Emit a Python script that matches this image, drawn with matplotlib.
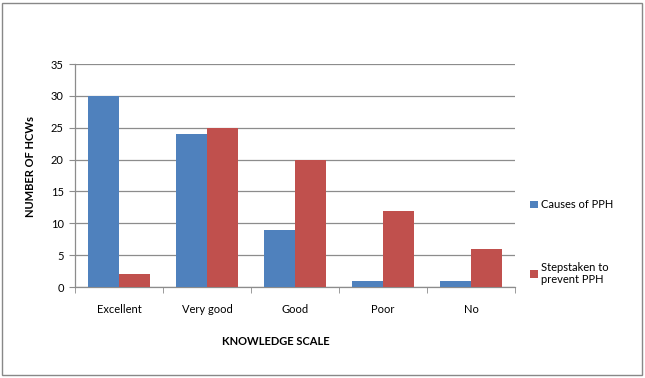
import matplotlib
matplotlib.use('Agg')
import matplotlib.pyplot as plt
from matplotlib.patches import Rectangle
import numpy as np

categories = ['Excellent', 'Very good', 'Good', 'Poor', 'No']
causes = [30, 24, 9, 1, 1]
steps_taken = [2, 25, 20, 12, 6]
series_labels = ['Causes of PPH', 'Stepstaken to\nprevent PPH']

BLUE = '#4F81BD'
RED = '#C0504D'
GRID = '#8C8C8C'

plt.rcParams['font.family'] = ['Lato', 'DejaVu Sans']

fig = plt.figure(figsize=(6.45, 3.78), dpi=100)
ax = fig.add_axes([75 / 645, 1 - 287 / 378, 440 / 645, 223 / 378])

x = np.arange(len(categories))
w = 0.35
ax.bar(x - w / 2, causes, width=w, color=BLUE, label=series_labels[0], zorder=3)
ax.bar(x + w / 2, steps_taken, width=w, color=RED, label=series_labels[1], zorder=3)

ax.set_xlim(-0.5, len(categories) - 0.5)
ax.set_ylim(0, 35)
ax.set_yticks(range(0, 36, 5))
ax.yaxis.grid(True, color=GRID, lw=0.9, zorder=0)
ax.set_axisbelow(True)

ax.set_xticks(x)
ax.set_xticklabels(categories, fontsize=8)
ax.set_xticks(np.arange(-0.5, len(categories)), minor=True)
ax.tick_params(axis='x', which='major', length=0, pad=12)
ax.tick_params(axis='x', which='minor', length=4, color=GRID, direction='out')
ax.tick_params(axis='y', length=4, color=GRID, labelsize=8, pad=4)

for side in ['top', 'right']:
    ax.spines[side].set_visible(False)
for side in ['left', 'bottom']:
    ax.spines[side].set_color(GRID)
    ax.spines[side].set_linewidth(0.9)

ax.set_xlabel('KNOWLEDGE SCALE', fontsize=8, fontweight='bold')
ax.xaxis.set_label_coords(0.457, -0.22)
ax.set_ylabel('NUMBER OF HCWs', fontsize=8, fontweight='bold')
ax.yaxis.set_label_coords(-0.088, 0.54)

leg = ax.legend(loc='center left', bbox_to_anchor=(1.012, 0.2), frameon=False,
                fontsize=8, handlelength=0.7, handleheight=0.7, handletextpad=0.3,
                labelspacing=4.6)

fig.patches.append(Rectangle((2 / 645, 3 / 378), 640 / 645, 372 / 378,
                             transform=fig.transFigure, fill=False,
                             edgecolor='#888888', lw=1))

fig.savefig('out.png', dpi=100, facecolor='white')
